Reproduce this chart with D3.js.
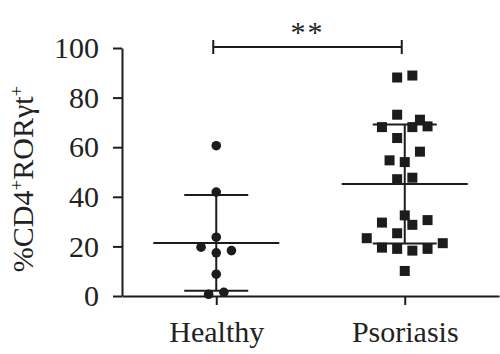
<!DOCTYPE html>
<html>
<head>
<meta charset="utf-8">
<script src="https://cdn.jsdelivr.net/npm/d3@7"></script>
<style>
  body { margin: 0; background: #fff; }
  svg { display: block; }
  text { font-family: "Liberation Serif", "DejaVu Serif", serif; fill: #222; }
</style>
</head>
<body>
<div id="chart"></div>
<script>
// data
const groups = ["Healthy", "Psoriasis"];
const healthyValues = [60.6, 41.9, 23.7, 19.7, 18.3, 17.4, 8.8, 0.7, 1.5];
const healthyJitter = [0, 0, 0, -2, 2, 0, 0, -1, 1];
const psoriasisValues = [88.1, 88.9, 73.1, 71.1, 68.1, 68.1, 68.4, 63.7, 58.2, 54.7, 54.0,
  47.1, 47.7, 32.5, 29.6, 30.6, 28.7, 25.3, 23.3, 19.5, 19.0, 18.3, 19.0, 21.3, 10.1];
const psoriasisJitter = [-1, 1, -1, 2, -3, 1, 3, -1, 2, -2, 0,
  -1, 1, 0, -3, 3, 1, -1, -5, -3, -1, 1, 3, 5, 0];
const yTicks = [0, 20, 40, 60, 80, 100];

const svgWidth = 500;
const svgHeight = 354;
const margin = { top: 48, right: 1, bottom: 58, left: 122 };
const width = svgWidth - margin.left - margin.right;
const height = svgHeight - margin.top - margin.bottom;
const ink = "#1c1c1c";
const fontSize = "30px";

const svg = d3.select("#chart")
  .append("svg")
  .attr("width", svgWidth)
  .attr("height", svgHeight);

const chartGroup = svg.append("g")
  .attr("transform", `translate(${margin.left}, ${margin.top})`);

const x = d3.scalePoint()
  .domain(groups)
  .range([0, width])
  .padding(0.5);

const y = d3.scaleLinear()
  .domain([0, 100])
  .range([height, 0]);

const jitterStep = 7.6;

// axes
const leftAxis = d3.axisLeft(y)
  .tickValues(yTicks)
  .tickSizeInner(9)
  .tickSizeOuter(0)
  .tickPadding(14);

const bottomAxis = d3.axisBottom(x)
  .tickSizeInner(9)
  .tickSizeOuter(0)
  .tickPadding(16);

const yAxis = chartGroup.append("g").call(leftAxis);
const xAxis = chartGroup.append("g")
  .attr("transform", `translate(0, ${height})`)
  .call(bottomAxis);

[yAxis, xAxis].forEach(ax => {
  ax.attr("font-family", null);
  ax.selectAll("path, line").attr("stroke", ink).attr("stroke-width", 2);
  ax.selectAll("text")
    .attr("fill", ink)
    .style("font-family", "'Liberation Serif', serif")
    .style("font-size", fontSize);
});

// mean +/- SD bars
const sets = [
  { name: "Healthy", values: healthyValues },
  { name: "Psoriasis", values: psoriasisValues }
];

sets.forEach(s => {
  const m = d3.mean(s.values);
  const sd = d3.deviation(s.values);
  const cx = x(s.name);
  const g = chartGroup.append("g")
    .attr("stroke", ink)
    .attr("stroke-width", 2);
  g.append("line")
    .attr("x1", cx).attr("x2", cx)
    .attr("y1", y(m + sd)).attr("y2", y(m - sd));
  g.append("line")
    .attr("x1", cx - 63).attr("x2", cx + 63)
    .attr("y1", y(m)).attr("y2", y(m));
  [m + sd, m - sd].forEach(v => {
    g.append("line")
      .attr("x1", cx - 32).attr("x2", cx + 32)
      .attr("y1", y(v)).attr("y2", y(v));
  });
});

// healthy circles
chartGroup.selectAll("circle.healthy")
  .data(healthyValues)
  .enter()
  .append("circle")
  .attr("class", "healthy")
  .attr("cx", (d, i) => x("Healthy") + healthyJitter[i] * jitterStep)
  .attr("cy", d => y(d))
  .attr("r", 4.8)
  .attr("fill", ink);

// psoriasis squares
const side = 10;
chartGroup.selectAll("rect.psoriasis")
  .data(psoriasisValues)
  .enter()
  .append("rect")
  .attr("class", "psoriasis")
  .attr("x", (d, i) => x("Psoriasis") + psoriasisJitter[i] * jitterStep - side / 2)
  .attr("y", d => y(d) - side / 2)
  .attr("width", side)
  .attr("height", side)
  .attr("fill", ink);

// significance bracket
const bx1 = x("Healthy") - 3;
const bx2 = x("Psoriasis") - 3;
const by = -1;
const bracket = chartGroup.append("g")
  .attr("stroke", ink)
  .attr("stroke-width", 2);
bracket.append("line").attr("x1", bx1).attr("x2", bx2).attr("y1", by).attr("y2", by);
bracket.append("line").attr("x1", bx1).attr("x2", bx1).attr("y1", by - 7).attr("y2", by + 7);
bracket.append("line").attr("x1", bx2).attr("x2", bx2).attr("y1", by - 7).attr("y2", by + 7);

chartGroup.append("text")
  .attr("x", (bx1 + bx2) / 2)
  .attr("y", by - 5)
  .attr("text-anchor", "middle")
  .attr("letter-spacing", "2px")
  .style("font-size", fontSize)
  .text("**");

// y axis title
const yTitle = svg.append("text")
  .attr("transform", `translate(33, ${margin.top + height / 2 + 7}) rotate(-90)`)
  .attr("text-anchor", "middle")
  .style("font-size", fontSize);
yTitle.append("tspan").text("%CD4");
yTitle.append("tspan").attr("baseline-shift", "super").style("font-size", "19px").text("+");
yTitle.append("tspan").text("RORγt");
yTitle.append("tspan").attr("baseline-shift", "super").style("font-size", "19px").text("+");
</script>
</body>
</html>
